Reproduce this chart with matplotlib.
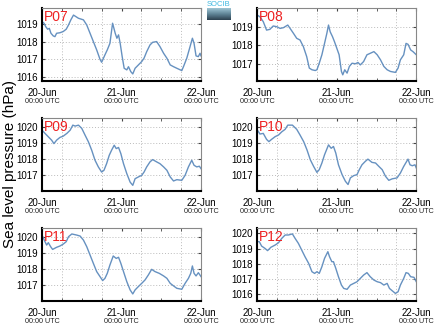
import numpy as np
import matplotlib.pyplot as plt
import matplotlib.transforms as mtransforms
from matplotlib.colors import LinearSegmentedColormap

plt.rcParams['font.family'] = ['Liberation Sans', 'DejaVu Sans']

# hours since 20-Jun 00:00 UTC, sea level pressure (hPa)
p07_h = [0, 0.6, 1.1, 1.7, 2.2, 2.7, 3.4, 3.9, 4.4, 5.4, 6.4, 7.3, 8.0, 8.7, 9.5, 11.0, 12.5, 13.5,
         14.5, 15.5, 16.5, 17.5, 18.0, 19.0, 19.7, 20.5, 21.3, 22.1, 22.6, 23.1, 23.6, 24.2, 24.8,
         25.6, 26.1, 26.8, 27.4, 28.1, 29.1, 30.1, 30.8, 31.6, 32.6, 33.4, 34.6, 35.6, 36.7, 37.7,
         38.7, 39.7, 40.7, 42.2, 42.7, 43.7, 44.7, 45.4, 45.9, 46.5, 47.2, 47.7, 48.0]
p07_v = [1019.13, 1019.04, 1018.85, 1018.7, 1018.75, 1018.47, 1018.32, 1018.28, 1018.47, 1018.5,
         1018.57, 1018.7, 1018.94, 1019.23, 1019.5, 1019.32, 1019.23, 1018.94, 1018.47, 1018.0,
         1017.53, 1017.0, 1016.83, 1017.25, 1017.53, 1017.9, 1019.04, 1018.47, 1018.19, 1018.38,
         1017.9, 1017.15, 1016.49, 1016.4, 1016.58, 1016.3, 1016.17, 1016.49, 1016.68, 1016.87,
         1017.06, 1017.43, 1017.81, 1017.96, 1018.0, 1017.72, 1017.34, 1017.06, 1016.68, 1016.58,
         1016.49, 1016.36, 1016.58, 1017.06, 1017.72, 1018.19, 1017.9, 1017.19, 1017.15, 1017.34,
         1017.19]

p08_h = [0, 0.8, 1.8, 2.8, 3.8, 4.8, 5.9, 6.9, 7.9, 9.2, 9.9, 10.9, 11.9, 12.9, 13.9, 14.9, 15.7,
         16.5, 17.5, 18.0, 18.7, 19.5, 20.3, 21.0, 21.5, 22.0, 22.7, 23.3, 24.0, 24.7, 25.4, 25.8,
         26.4, 27.1, 27.8, 28.6, 29.6, 30.4, 31.1, 32.1, 33.1, 34.1, 35.2, 36.2, 37.2, 38.2, 39.2,
         40.2, 41.7, 42.5, 43.2, 44.2, 44.9, 45.5, 46.3, 47.0, 48.0]
p08_v = [1019.62, 1019.53, 1019.27, 1018.82, 1018.86, 1019.04, 1019.0, 1018.91, 1018.95, 1019.09,
         1018.91, 1018.65, 1018.38, 1018.29, 1017.94, 1017.41, 1016.79, 1016.7, 1016.66, 1016.7,
         1017.05, 1017.5, 1018.11, 1018.65, 1019.09, 1018.73, 1018.47, 1018.2, 1017.85, 1017.5,
         1016.61, 1016.43, 1016.7, 1016.52, 1016.88, 1017.05, 1017.02, 1017.09, 1016.96, 1017.14,
         1017.5, 1017.58, 1017.67, 1017.5, 1017.23, 1016.88, 1016.7, 1016.61, 1016.56, 1016.79,
         1017.23, 1017.5, 1018.11, 1018.06, 1017.76, 1017.67, 1017.5]

p09_h = [0, 0.9, 1.9, 2.9, 3.6, 4.4, 5.4, 6.4, 7.5, 8.5, 9.3, 10.0, 11.0, 12.0, 13.0, 14.0, 15.0,
         16.0, 17.0, 18.0, 18.7, 19.5, 20.3, 21.0, 21.8, 22.4, 23.1, 23.8, 24.6, 25.6, 26.6, 27.4,
         28.1, 29.1, 30.1, 30.8, 31.6, 32.6, 33.4, 34.6, 35.6, 36.7, 37.7, 38.7, 39.7, 40.7, 42.2,
         43.2, 44.2, 45.2, 45.9, 46.7, 47.5, 48.0]
p09_v = [1019.79, 1019.59, 1019.38, 1019.17, 1018.96, 1019.17, 1019.34, 1019.42, 1019.59, 1019.79,
         1020.1, 1020.04, 1020.1, 1019.9, 1019.48, 1019.07, 1018.55, 1017.93, 1017.52, 1017.2,
         1017.31, 1017.72, 1018.24, 1018.55, 1018.86, 1018.65, 1018.72, 1018.34, 1017.72, 1017.1,
         1016.58, 1016.38, 1016.79, 1016.9, 1017.0, 1017.2, 1017.52, 1017.83, 1017.97, 1017.83,
         1017.72, 1017.52, 1017.31, 1016.9, 1016.65, 1016.73, 1016.69, 1017.0, 1017.52, 1017.93,
         1017.62, 1017.52, 1017.56, 1017.41]

p10_h = [0, 0.8, 1.8, 2.8, 3.5, 4.3, 5.4, 6.4, 7.4, 8.4, 9.2, 10.6, 11.9, 12.9, 14.0, 15.0, 16.0,
         17.0, 18.0, 18.7, 19.5, 20.3, 21.5, 22.3, 23.0, 23.7, 24.5, 25.6, 26.6, 27.4, 28.1, 29.1,
         30.1, 30.8, 31.6, 32.6, 33.4, 34.6, 35.7, 36.7, 37.7, 38.7, 39.7, 40.7, 42.2, 43.2, 44.2,
         45.5, 46.1, 46.8, 47.6, 48.0]
p10_v = [1019.8, 1019.55, 1019.59, 1019.22, 1019.08, 1019.22, 1019.39, 1019.49, 1019.69, 1019.84,
         1020.1, 1020.1, 1019.84, 1019.49, 1019.08, 1018.57, 1017.96, 1017.55, 1017.18, 1017.35,
         1017.76, 1018.27, 1018.88, 1018.67, 1018.78, 1018.37, 1017.65, 1017.04, 1016.63, 1016.43,
         1016.84, 1016.98, 1017.04, 1017.35, 1017.65, 1017.86, 1018.0, 1017.8, 1017.76, 1017.55,
         1017.35, 1016.94, 1016.69, 1016.78, 1016.84, 1017.14, 1017.55, 1018.0, 1017.65, 1017.59,
         1017.65, 1017.45]

p11_h = [0, 0.9, 1.4, 1.9, 2.6, 3.2, 4.4, 5.4, 6.4, 7.3, 8.0, 9.0, 10.5, 11.5, 12.5, 13.5, 14.5,
         15.5, 16.5, 17.5, 18.3, 19.0, 19.7, 20.5, 21.5, 22.4, 23.1, 23.8, 24.6, 25.6, 26.6, 27.4,
         28.1, 29.1, 30.1, 31.1, 32.1, 33.1, 34.1, 35.4, 36.7, 37.7, 38.7, 39.7, 40.7, 42.2, 43.2,
         44.2, 44.9, 45.4, 45.9, 46.5, 47.2, 48.0]
p11_v = [1020.1, 1019.69, 1019.48, 1019.63, 1019.38, 1019.21, 1019.34, 1019.42, 1019.54, 1019.69,
         1020.0, 1020.17, 1020.1, 1020.04, 1019.79, 1019.38, 1018.86, 1018.34, 1017.83, 1017.52,
         1017.27, 1017.41, 1017.72, 1018.24, 1018.8, 1018.65, 1018.72, 1018.34, 1017.83, 1017.2,
         1016.69, 1016.44, 1016.69, 1016.9, 1017.1, 1017.31, 1017.62, 1017.97, 1017.83, 1017.72,
         1017.56, 1017.41, 1017.1, 1016.94, 1016.79, 1016.73, 1017.1, 1017.41, 1017.72, 1018.18,
         1017.72, 1017.56, 1017.76, 1017.52]

p12_h = [0, 0.6, 1.3, 2.3, 3.1, 4.1, 5.4, 6.4, 7.4, 8.4, 9.4, 10.6, 11.4, 12.4, 13.4, 14.4, 15.5,
         16.5, 17.3, 18.0, 18.7, 19.5, 20.3, 21.3, 21.8, 22.5, 23.0, 23.7, 24.5, 25.4, 26.1, 27.1,
         28.1, 29.1, 30.1, 31.1, 32.1, 33.1, 34.1, 35.2, 36.2, 37.2, 38.2, 39.2, 39.9, 40.7, 41.7,
         42.5, 43.2, 44.2, 44.9, 45.6, 46.3, 47.3, 48.0]
p12_v = [1019.45, 1019.45, 1019.16, 1019.01, 1018.86, 1019.08, 1019.23, 1019.38, 1019.67, 1019.89,
         1019.89, 1019.96, 1019.67, 1019.34, 1018.9, 1018.46, 1018.02, 1017.47, 1017.36, 1017.47,
         1017.36, 1017.8, 1018.35, 1018.79, 1018.46, 1018.13, 1018.13, 1017.69, 1017.14, 1016.59,
         1016.37, 1016.31, 1016.59, 1016.7, 1016.81, 1017.03, 1017.25, 1017.41, 1017.14, 1016.92,
         1016.81, 1016.75, 1016.59, 1016.7, 1016.37, 1016.22, 1016.04, 1016.15, 1016.59, 1017.03,
         1017.41, 1017.36, 1017.14, 1017.1, 1016.81]

stations = ["P07", "P08", "P09", "P10", "P11", "P12"]
hours = [p07_h, p08_h, p09_h, p10_h, p11_h, p12_h]
values = [p07_v, p08_v, p09_v, p10_v, p11_v, p12_v]
ylims = [(1015.77, 1019.9), (1016.1, 1020.0), (1016.03, 1020.54),
         (1016.03, 1020.54), (1016.0, 1020.54), (1015.54, 1020.35)]
yticks = [[1016, 1017, 1018, 1019], [1017, 1018, 1019], [1017, 1018, 1019, 1020],
          [1017, 1018, 1019, 1020], [1017, 1018, 1019, 1020], [1016, 1017, 1018, 1019, 1020]]
day_ticks = [0, 24, 48]
day_labels = ["20-Jun", "21-Jun", "22-Jun"]

fig = plt.figure(figsize=(4.35, 3.27), dpi=100)

lefts = [0.0966, 0.5915]
bottoms = [0.7523, 0.4159, 0.0795]
w, h = 0.3655, 0.2232

for i, name in enumerate(stations):
    r, c = divmod(i, 2)
    ax = fig.add_axes([lefts[c], bottoms[r], w, h])
    ax.plot(hours[i], values[i], color="#6691c0", lw=1.0)
    ax.set_xlim(0, 48)
    ax.set_ylim(*ylims[i])
    ax.set_yticks(yticks[i])
    ax.set_xticks(day_ticks)
    ax.set_xticklabels(day_labels)
    ax.set_xticks(np.arange(0, 49, 6), minor=True)
    ax.tick_params(axis="both", which="both", direction="in", length=2,
                   top=True, right=True, labelsize=7, pad=3, color="#444444")
    ax.tick_params(axis="x", which="major", pad=5)
    for gx in [6, 18, 30, 42]:
        ax.axvline(gx, color="#bbbbbb", lw=0.7, ls=(0, (1, 2)), zorder=0)
    for gy in yticks[i]:
        ax.axhline(gy, color="#bbbbbb", lw=0.7, ls=(0, (1, 2)), zorder=0)
    for s in ["left", "bottom"]:
        ax.spines[s].set_linewidth(1.5)
        ax.spines[s].set_color("black")
    for s in ["top", "right"]:
        ax.spines[s].set_linewidth(0.8)
        ax.spines[s].set_color("#888888")
    ax.text(0.01, 0.97, name, transform=ax.transAxes, color="#ee2222",
            fontsize=10, va="top", ha="left")
    trans = mtransforms.blended_transform_factory(ax.transData, ax.transAxes)
    for tx in day_ticks:
        ax.text(tx, -0.235, "00:00 UTC", transform=trans, fontsize=5.2,
                ha="center", va="top", color="#222222")

fig.text(0.022, 0.50, "Sea level pressure (hPa)", rotation=90, fontsize=11,
         ha="center", va="center")

# small logo in the top gap
fig.text(0.503, 0.997, "SOCIB", fontsize=5.5, color="#3fb8e0", ha="center", va="top")
logo_cmap = LinearSegmentedColormap.from_list("logo", ["#9cc3d2", "#5f8496", "#2e4352"])
lax = fig.add_axes([0.477, 0.94, 0.054, 0.036])
lax.imshow(np.linspace(0, 1, 20).reshape(-1, 1), cmap=logo_cmap, aspect="auto")
lax.axis("off")

fig.savefig("out.png", dpi=100)
